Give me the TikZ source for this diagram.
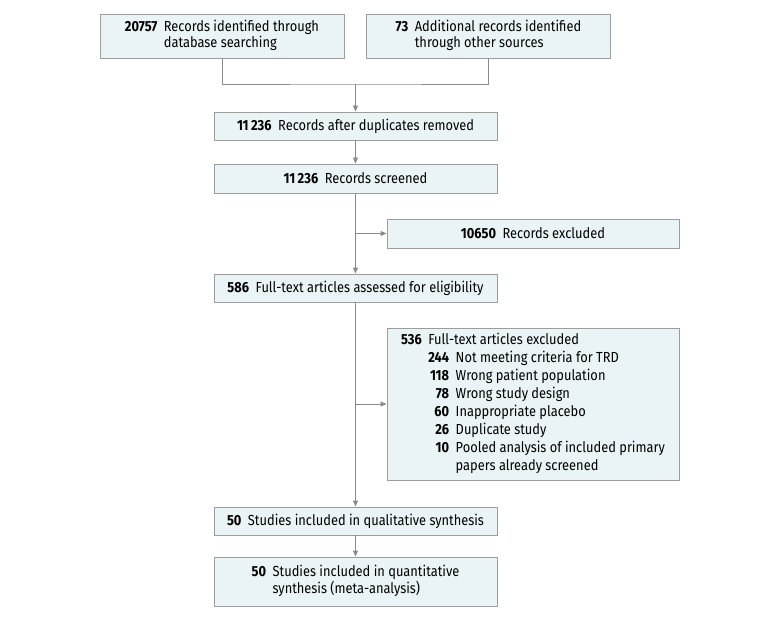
\documentclass[tikz,border=0pt]{standalone}
\usepackage{fontspec}
\setmainfont{Fira Sans}[FakeStretch=0.88]
\usepackage{xcolor}
\usepackage{tikz}
\usetikzlibrary{arrows.meta,positioning}

\definecolor{boxfill}{HTML}{EAF3F5}
\definecolor{boxline}{HTML}{9C9C9C}
\definecolor{flowline}{HTML}{8A8A8A}

\tikzset{
    stagebox/.style={
        draw=boxline,
        fill=boxfill,
        line width=0.9bp,
        minimum height=28bp,
        inner sep=0pt,
        align=center,
        font=\fontsize{14.6bp}{16.5bp}\selectfont
    },
    flow/.style={
        draw=flowline,
        line width=0.9bp
    },
    flowarrow/.style={
        flow,
        -{Triangle[length=6bp,width=5bp]}
    }
}

\newcommand{\cnt}[1]{\textbf{#1}\hspace{0.45em}}

\begin{document}
\begin{tikzpicture}[x=1bp,y=-1bp]
                \useasboundingbox (0,0) rectangle (780,618);

                % identification
                \node[
                    stagebox,
                    minimum width=244bp,
                    minimum height=44bp
                    ] (ident) at (222,36)
                    {\begin{tabular}{@{}r@{\hspace{0.45em}}l@{}}
                     \textbf{20757} & Records identified through\\
                                    & database searching
                     \end{tabular}};

                \node[
                    stagebox,
                    minimum width=244bp,
                    minimum height=44bp
                    ] (extra) at (488.5,36)
                    {\begin{tabular}{@{}r@{\hspace{0.45em}}l@{}}
                     \textbf{73} & Additional records identified\\
                                 & through other sources
                     \end{tabular}};

                \coordinate (merge) at (355.5,84);

                % screening
                \node[
                    stagebox,
                    minimum width=283bp
                    ] (dedup) at (355.5,126)
                    {\cnt{11\,236}Records after duplicates removed};

                \node[
                    stagebox,
                    minimum width=283bp,
                    minimum height=29bp
                    ] (screen) at (355.5,178.5)
                    {\cnt{11\,236}Records screened};

                \node[
                    stagebox,
                    minimum width=292bp,
                    minimum height=29bp
                    ] (excl) at (533,233.5)
                    {\cnt{10650}Records excluded};

                % eligibility
                \node[
                    stagebox,
                    minimum width=283bp
                    ] (fulltext) at (355.5,288)
                    {\cnt{586}Full-text articles assessed for eligibility};

                \node[
                    stagebox,
                    minimum width=292bp,
                    minimum height=152bp,
                    font=\fontsize{14.6bp}{18bp}\selectfont
                    ] (ftexcl) at (533,404)
                    {\begin{tabular}{@{}l@{\hspace{0.45em}}r@{\hspace{0.45em}}l@{}}
                     \multicolumn{3}{@{}l@{}}{\cnt{536}Full-text articles excluded}\\
                     \phantom{\textbf{536}} & \textbf{244} & Not meeting criteria for TRD\\
                     & \textbf{118} & Wrong patient population\\
                     & \textbf{78}  & Wrong study design\\
                     & \textbf{60}  & Inappropriate placebo\\
                     & \textbf{26}  & Duplicate study\\
                     & \textbf{10}  & Pooled analysis of included primary\\
                     &              & papers already screened
                     \end{tabular}};

                % included
                \node[
                    stagebox,
                    minimum width=283bp
                    ] (qual) at (355.5,521)
                    {\cnt{50}Studies included in qualitative synthesis};

                \node[
                    stagebox,
                    minimum width=283bp,
                    minimum height=49bp
                    ] (quant) at (355.5,581.5)
                    {\begin{tabular}{@{}r@{\hspace{0.45em}}l@{}}
                     \textbf{50} & Studies included in quantitative\\
                                 & synthesis (meta-analysis)
                     \end{tabular}};

                % connectors
                \draw[flow] (ident.south) |- (merge) -| (extra.south);
                \draw[flowarrow] (merge) -- (dedup);
                \draw[flowarrow] (dedup) -- (screen);
                \draw[flowarrow] (screen) -- (fulltext);
                \draw[flowarrow] (screen.south |- excl.west) -- (excl.west);
                \draw[flowarrow] (fulltext) -- (qual);
                \draw[flowarrow] (fulltext.south |- ftexcl.west) -- (ftexcl.west);
                \draw[flowarrow] (qual) -- (quant);

\end{tikzpicture}
\end{document}
